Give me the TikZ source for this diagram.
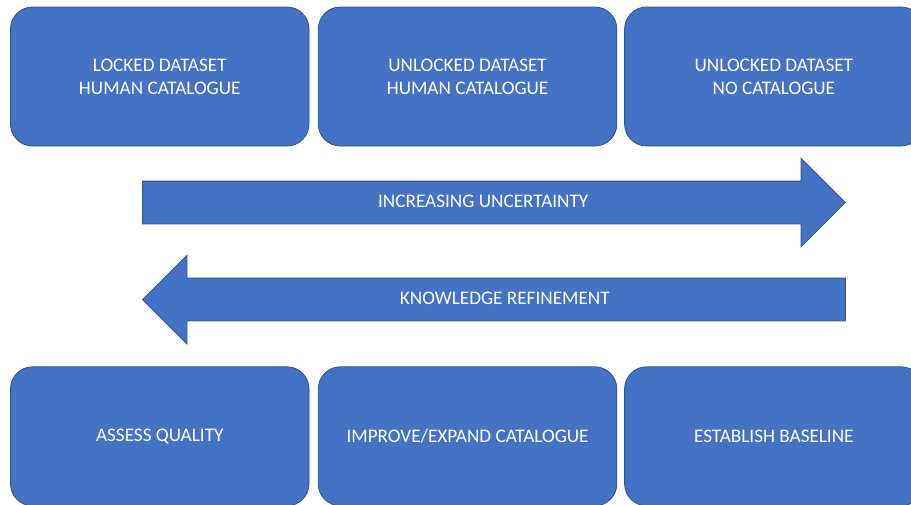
\documentclass[tikz,border=0pt]{standalone}
\usepackage{fontspec}
\setmainfont{Carlito}
\usetikzlibrary{shapes.arrows, positioning}

\definecolor{boxblue}{HTML}{4472C4}
\definecolor{edgeblue}{HTML}{2F528F}

\begin{document}
\begin{tikzpicture}[
    x=1pt, y=-1pt,
    node distance=8.5pt,
    stage/.style={rectangle, rounded corners=22pt, draw=edgeblue, line width=0.8pt, fill=boxblue, text=white, minimum width=298.5pt, minimum height=139pt, align=center, font=\fontsize{19.2}{23}\selectfont},
    trend/.style={single arrow, draw=edgeblue, line width=0.8pt, fill=boxblue, text=white, minimum height=703pt, single arrow head extend=23pt, text height=12pt, text depth=3pt, inner ysep=13.5pt, font=\fontsize{19.2}{23}\selectfont}
]
\clip (0,0) rectangle (911,504);

% datasets
\node[stage] (locked) at (159.75,76.5) {LOCKED DATASET\\HUMAN CATALOGUE};
\node[stage, right=of locked] (unlocked) {UNLOCKED DATASET\\HUMAN CATALOGUE};
\node[stage, right=7pt of unlocked] (nocat) {UNLOCKED DATASET\\NO CATALOGUE};

% tasks
\node[stage, below=220pt of locked] (assess) {ASSESS QUALITY};
\node[stage, right=of assess] (improve) {IMPROVE/EXPAND CATALOGUE};
\node[stage, right=7pt of improve] (baseline) {ESTABLISH BASELINE};

% arrows
\node[trend, anchor=tail] (uncert) at (142,202.5) {INCREASING UNCERTAINTY};
\node[trend, shape border rotate=180, anchor=tip] (refine) at (142,299.5) {KNOWLEDGE REFINEMENT};

\end{tikzpicture}
\end{document}
